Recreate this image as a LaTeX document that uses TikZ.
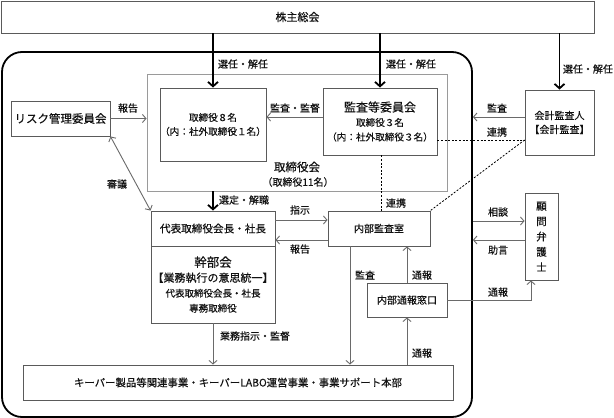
\documentclass[tikz,border=0pt]{standalone}
\usepackage{fontspec}
\setmainfont{Noto Sans CJK JP}[FakeBold=0.35]
\usetikzlibrary{arrows.meta,calc}
\definecolor{boxgray}{HTML}{5A5A5A}
\definecolor{linegray}{HTML}{6A6A6A}
\definecolor{boardgray}{HTML}{9A9A9A}
\definecolor{txt}{HTML}{111111}
\begin{document}
\begin{tikzpicture}[x=1pt,y=-1pt,
  box/.style={draw=boxgray, line width=0.9pt, inner sep=0pt, align=center, text=txt, font=\fontsize{10}{14}\selectfont},
  lbl/.style={inner sep=0pt, text=txt, font=\fontsize{10}{12}\selectfont},
  conn/.style={draw=linegray, line width=0.9pt, -{Straight Barb[length=3.5pt,width=8pt]}},
  biconn/.style={draw=linegray, line width=0.9pt, {Straight Barb[length=3.5pt,width=8pt]}-{Straight Barb[length=3.5pt,width=8pt]}},
  thickarr/.style={draw=black, line width=1.8pt, -{Straight Barb[length=4.5pt,width=10pt]}},
  dotline/.style={draw=black, line width=0.8pt, dash pattern=on 2pt off 1.6pt}]
\useasboundingbox (0,0) rectangle (614,418);
\fill[white] (0,0) rectangle (614,418);

% frame and board
\node[draw=black, line width=1.8pt, rounded corners=20pt, minimum width=470pt, minimum height=365pt, inner sep=0pt] (frame) at (237,234.5) {};
\node[draw=boardgray, line width=0.9pt, minimum width=300pt, minimum height=117pt, inner sep=0pt] (board) at (297,132.5) {};
\node[lbl, font=\fontsize{11.5}{13}\selectfont] (boardlbl) at (297,167) {取締役会};
\node[lbl] (boardsub) at (298,182) {（取締役11名）};

% boxes
\node[box, minimum width=593pt, minimum height=32pt, font=\fontsize{11}{13}\selectfont] (soukai) at (297.5,17) {株主総会};
\node[box, minimum width=106pt, minimum height=73pt, font=\fontsize{9.6}{14}\selectfont] (dir8) at (213,124.5) {取締役８名\\（内：社外取締役１名）};
\node[box, minimum width=114pt, minimum height=67pt, font=\fontsize{9.6}{14.5}\selectfont] (kansa) at (380,121.5) {{\fontsize{12}{14}\selectfont 監査等委員会}\\取締役３名\\（内：社外取締役３名）};
\node[box, minimum width=99pt, minimum height=35pt, font=\fontsize{11.5}{13}\selectfont] (risk) at (60.5,118.5) {リスク管理委員会};
\node[box, minimum width=69pt, minimum height=65pt, font=\fontsize{10}{14}\selectfont] (kaikei) at (559.5,122.5) {会計監査人\\【会計監査】};
\node[box, minimum width=124pt, minimum height=35pt, font=\fontsize{10.6}{13}\selectfont] (daihyo) at (213,228.5) {代表取締役会長・社長};
\node[box, minimum width=124pt, minimum height=77pt, font=\fontsize{9.5}{15}\selectfont] (kanbu) at (213,284.5) {{\fontsize{12.5}{15}\selectfont 幹部会}\\{\fontsize{11}{15}\selectfont 【業務執行の意思統一】}\\代表取締役会長・社長\\専務取締役};
\node[box, minimum width=102pt, minimum height=35pt] (naibu) at (379,228.5) {内部監査室};
\node[box, minimum width=80pt, minimum height=34pt] (tsuho) at (407,300) {内部通報窓口};
\node[box, minimum width=430pt, minimum height=35pt, font=\fontsize{10.4}{13}\selectfont] (bottom) at (238,382.5) {キーパー製品等関連事業・キーパーLABO運営事業・事業サポート本部};
\node[box, minimum width=33pt, minimum height=87pt, font=\fontsize{10.5}{15.3}\selectfont] (komon) at (541.5,236.5) {顧\\問\\弁\\護\\士};

% thick arrows
\draw[thickarr] (soukai.south -| dir8.north) -- (dir8.north);
\draw[thickarr] (soukai.south -| kansa.north) -- (kansa.north);
\draw[thickarr] (soukai.south -| kaikei.north) -- (kaikei.north);
\draw[thickarr] (board.south -| daihyo.north) -- (daihyo.north);

% thin arrows
\draw[conn] (risk.east) -- (board.west |- risk.east);
\draw[conn] (kansa.west |- 0,117) -- (dir8.east |- 0,117);
\draw[conn] (kaikei.west |- 0,117) -- (frame.east |- 0,117);
\draw[biconn] (risk.south east) -- (daihyo.north west);
\draw[conn] (daihyo.east |- 0,220) -- (naibu.west |- 0,220);
\draw[conn] (naibu.west |- 0,240) -- (daihyo.east |- 0,240);
\draw[conn] (kanbu.south) -- (bottom.north -| kanbu.south);
\draw[conn] (naibu.south -| 350,0) -- (bottom.north -| 350,0);
\draw[conn] (tsuho.north) -- (naibu.south -| tsuho.north);
\draw[conn] (bottom.north -| tsuho.south) -- (tsuho.south);
\draw[conn] (frame.east |- 0,221) -- (komon.west |- 0,221);
\draw[conn] (komon.west |- 0,240) -- (frame.east |- 0,240);
\draw[conn] (tsuho.east) -| (komon.south -| 531,0);

% dotted links
\draw[dotline] (kansa.east |- 0,140) -- (kaikei.west |- 0,140);
\draw[dotline] (kaikei.west |- 0,140) -- (naibu.north east);
\draw[dotline] (kansa.south -| 381,0) -- (naibu.north -| 381,0);

% labels
\node[lbl] (l1) at (243,64) {選任・解任};
\node[lbl] (l2) at (411,64) {選任・解任};
\node[lbl] (l3) at (588,69) {選任・解任};
\node[lbl] (l4) at (128,108) {報告};
\node[lbl] (l5) at (295,108) {監査・監督};
\node[lbl] (l6) at (497,108) {監査};
\node[lbl] (l7) at (497,132) {連携};
\node[lbl] (l8) at (117,184) {審議};
\node[lbl] (l9) at (244,200) {選定・解職};
\node[lbl] (l10) at (396,203) {連携};
\node[lbl] (l11) at (300,210) {指示};
\node[lbl] (l12) at (300,249) {報告};
\node[lbl] (l13) at (498,212) {相談};
\node[lbl] (l14) at (498,250) {助言};
\node[lbl] (l15) at (365,275) {監査};
\node[lbl] (l16) at (422,275) {通報};
\node[lbl] (l17) at (498,292) {通報};
\node[lbl] (l18) at (255,336) {業務指示・監督};
\node[lbl] (l19) at (422,353) {通報};
\end{tikzpicture}
\end{document}
